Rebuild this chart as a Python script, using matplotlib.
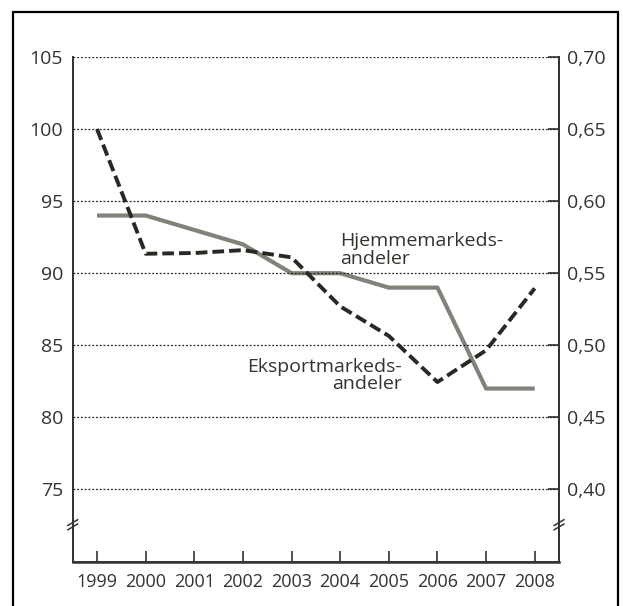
import numpy as np
import matplotlib.pyplot as plt
from matplotlib.patches import Rectangle

# Data
years = [1999, 2000, 2001, 2002, 2003, 2004, 2005, 2006, 2007, 2008]
eksport = [100, 91.35, 91.4, 91.6, 91.1, 87.7, 85.65, 82.45, 84.65, 88.95]   # venstre akse
hjemme = [0.59, 0.59, 0.58, 0.57, 0.55, 0.55, 0.54, 0.54, 0.47, 0.47]       # høyre akse
left_ticks = [75, 80, 85, 90, 95, 100, 105]
right_ticks = [0.40, 0.45, 0.50, 0.55, 0.60, 0.65, 0.70]

txt = '#36322e'
plt.rcParams['font.family'] = ['Open Sans', 'DejaVu Sans']
plt.rcParams['font.size'] = 14

fig = plt.figure(figsize=(6.23, 6.06), dpi=100)
ax = fig.add_axes([0.1167, 0.0734, 0.7806, 0.8326])
ax2 = ax.twinx()

# outer frame
fig.patches.append(Rectangle((13 / 623, -0.05), 605 / 623, 1.05 - 12 / 606,
                             transform=fig.transFigure, fill=False,
                             edgecolor='black', linewidth=1.6))

ax.set_xlim(1998.5, 2008.5)
ax.set_ylim(70, 105)
ax2.set_ylim(0.35, 0.70)

# grid
for v in left_ticks:
    ax.axhline(v, color='#222222', linestyle=(0, (1.5, 1.5)), linewidth=0.9, zorder=1)

ax2.plot(years, hjemme, color='#80837a', linewidth=3.0, solid_capstyle='butt', zorder=3)
ax.plot(years, eksport, color='#2b2722', linewidth=2.8, linestyle=(0, (3.0, 1.3)),
        dash_capstyle='butt', zorder=4)
ax.set_zorder(ax2.get_zorder() + 1)
ax.patch.set_visible(False)

ax.set_xticks(years)
ax.set_yticks(left_ticks)
ax2.set_yticks(right_ticks)
ax2.set_yticklabels(['{:.2f}'.format(v).replace('.', ',') for v in right_ticks])

ax.tick_params(axis='x', direction='in', length=8, width=1.2, colors=txt, pad=8,
               labelsize=13)
ax.tick_params(axis='y', length=0, colors=txt, pad=7)
ax2.tick_params(axis='y', direction='in', length=8, width=1.2, colors=txt, pad=6)

for a in (ax, ax2):
    a.spines['top'].set_visible(False)
    for s in ('left', 'right', 'bottom'):
        a.spines[s].set_color(txt)
        a.spines[s].set_linewidth(1.3)
ax.spines['bottom'].set_linewidth(1.8)

# axis break marks
for xb in (1998.5, 2008.5):
    for dy in (0.15, -0.15):
        ax.plot([xb - 0.1, xb + 0.1], [72.35 + dy, 72.75 + dy], color=txt,
                linewidth=1.1, clip_on=False, zorder=5)

ax.text(2004.0, 91.6, 'Hjemmemarkeds-\nandeler', ha='left', va='center',
        color=txt, linespacing=0.95)
ax.text(2005.27, 82.9, 'Eksportmarkeds-\nandeler', ha='right', va='center',
        color=txt, linespacing=0.95, multialignment='right')

fig.savefig('out.png', dpi=100)
